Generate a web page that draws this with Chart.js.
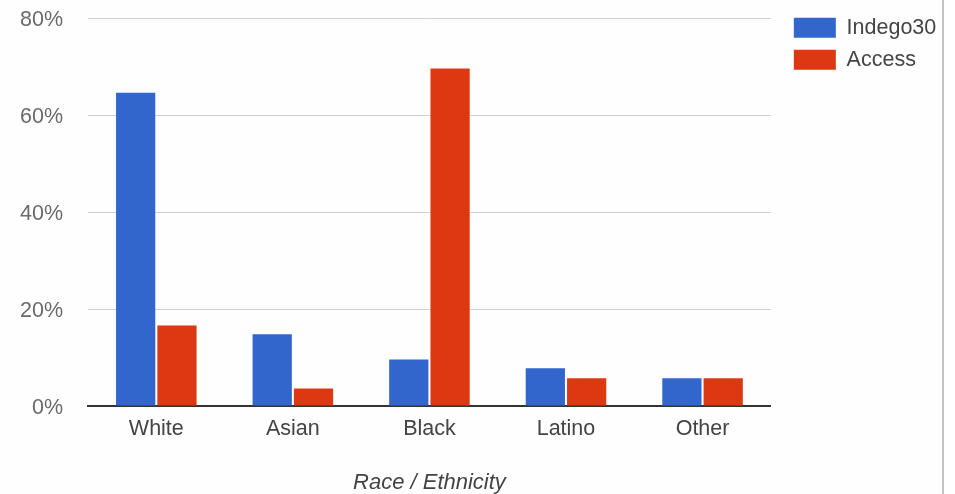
<!DOCTYPE html>
<html>
<head>
<meta charset="utf-8">
<script src="https://cdn.jsdelivr.net/npm/chart.js@4/dist/chart.umd.min.js"></script>
<style>
  html, body { margin: 0; padding: 0; background: #fff; }
  #wrap { position: relative; width: 942px; height: 494px; border-right: 2px solid #c4c4c4; background: #fefefe; }
</style>
</head>
<body>
<div id="wrap"><canvas id="c" width="942" height="494"></canvas></div>
<script>
const categories = ["White", "Asian", "Black", "Latino", "Other"];
const seriesNames = ["Indego30", "Access"];
const indego30 = [64.6, 14.8, 9.6, 7.8, 5.7];
const access = [16.6, 3.6, 69.6, 5.7, 5.7];
const yTicks = [0, 20, 40, 60, 80];
const axisTitle = "Race / Ethnicity";

const FONT = "'Liberation Sans', Arial, sans-serif";
const FS = 21.5;

new Chart(document.getElementById('c'), {
  type: 'bar',
  data: {
    labels: categories,
    datasets: [
      { label: seriesNames[0], data: indego30, backgroundColor: '#3366cc', xAxisID: 'x', yAxisID: 'y' },
      { label: seriesNames[1], data: access, backgroundColor: '#dc3912', xAxisID: 'x', yAxisID: 'y' }
    ]
  },
  options: {
    responsive: false,
    animation: false,
    devicePixelRatio: 1,
    categoryPercentage: 0.605,
    barPercentage: 0.95,
    layout: { padding: { left: 20, right: 6, top: 6.5, bottom: 0 } },
    plugins: {
      legend: {
        position: 'right',
        align: 'start',
        labels: {
          boxWidth: 42,
          boxHeight: 20,
          padding: 10.5,
          color: '#444',
          font: { family: FONT, size: FS }
        }
      },
      tooltip: { enabled: false }
    },
    scales: {
      x: {
        type: 'category',
        position: 'bottom',
        grid: { display: false, drawTicks: false },
        border: { display: true, color: '#333', width: 2 },
        ticks: { color: '#444', padding: 10.5, font: { family: FONT, size: FS } },
        title: {
          display: true,
          text: axisTitle,
          color: '#444',
          padding: { top: 16.8, bottom: -2 },
          font: { family: FONT, size: 22, style: 'italic' }
        }
      },
      y: {
        type: 'linear',
        position: 'left',
        min: yTicks[0],
        max: yTicks[yTicks.length - 1],
        afterBuildTicks: (s) => { s.ticks = yTicks.map(v => ({ value: v })); },
        grid: {
          drawTicks: true,
          tickLength: 25,
          tickColor: 'rgba(0,0,0,0)',
          color: (ctx) => ctx.tick && ctx.tick.value === 0 ? 'rgba(0,0,0,0)' : '#d0d0d0',
          lineWidth: 1
        },
        border: { display: false },
        ticks: {
          color: '#6a6a6a',
          padding: 0,
          labelOffset: 2.5,
          font: { family: FONT, size: FS },
          callback: (v) => v + '%'
        }
      },
      padTop: {
        type: 'linear',
        position: 'top',
        display: true,
        grid: { display: false, drawTicks: false },
        border: { display: false },
        ticks: { display: false },
        afterFit: (s) => { s.height = 11.5; }
      },
      padRight: {
        type: 'linear',
        position: 'right',
        display: true,
        grid: { display: false, drawTicks: false },
        border: { display: false },
        ticks: { display: false },
        afterFit: (s) => { s.width = 12.5; }
      }
    }
  }
});
</script>
</body>
</html>
